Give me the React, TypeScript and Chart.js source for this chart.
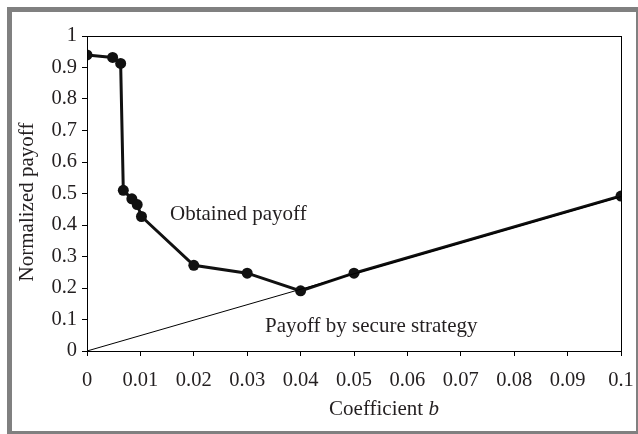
import React, { useEffect, useRef } from "react";
import { Chart, registerables } from "chart.js";

Chart.register(...registerables);

// Obtained payoff (coefficient b -> normalized payoff)
const obtainedB = [0, 0.0048, 0.0063, 0.0068, 0.0084, 0.0094, 0.0102, 0.02, 0.03, 0.04, 0.05, 0.1];
const obtainedPayoff = [0.94, 0.932, 0.913, 0.51, 0.483, 0.465, 0.427, 0.272, 0.247, 0.191, 0.247, 0.492];

// Payoff by secure strategy (straight line)
const secureB = [0, 0.1];
const securePayoff = [0, 0.49];

const xTitle = "Coefficient ";
const xTitleItalic = "b";
const yTitle = "Normalized payoff";
const obtainedLabel = "Obtained payoff";
const secureLabel = "Payoff by secure strategy";

const FONT = '"Liberation Serif", "Times New Roman", serif';

const decorPlugin = {
  id: "decor",
  beforeDraw(chart: any) {
    const ctx = chart.ctx;
    ctx.save();
    ctx.fillStyle = "#808080";
    ctx.fillRect(7, 7, chart.width - 7, chart.height - 7);
    ctx.fillStyle = "#ffffff";
    ctx.fillRect(12, 12, 636 - 12, 431 - 12);
    ctx.restore();
  },
  afterDraw(chart: any) {
    const ctx = chart.ctx;
    const a = chart.chartArea;
    ctx.save();
    // plot border
    ctx.strokeStyle = "#000";
    ctx.lineWidth = 1;
    ctx.strokeRect(Math.round(a.left) + 0.5, Math.round(a.top) + 0.5, Math.round(a.right - a.left), Math.round(a.bottom - a.top));

    ctx.fillStyle = "#231f20";
    ctx.textBaseline = "alphabetic";
    ctx.font = `21px ${FONT}`;
    // annotations
    ctx.textAlign = "left";
    ctx.fillText(obtainedLabel, 170, 220);
    ctx.fillText(secureLabel, 265, 332);

    // x title with italic b
    const w1 = ctx.measureText(xTitle).width;
    ctx.font = `italic 21px ${FONT}`;
    const w2 = ctx.measureText(xTitleItalic).width;
    const cx = 384;
    const startX = cx - (w1 + w2) / 2;
    ctx.font = `21px ${FONT}`;
    ctx.fillText(xTitle, startX, 415);
    ctx.font = `italic 21px ${FONT}`;
    ctx.fillText(xTitleItalic, startX + w1, 415);

    // y title
    ctx.font = `21px ${FONT}`;
    ctx.translate(33, 202);
    ctx.rotate(-Math.PI / 2);
    ctx.textAlign = "center";
    ctx.fillText(yTitle, 0, 0);
    ctx.restore();
  },
};

export default function App() {
  const ref = useRef<HTMLCanvasElement>(null);
  useEffect(() => {
    if (!ref.current) return;
    const chart = new Chart(ref.current, {
      type: "scatter",
      data: {
        datasets: [
          {
            label: "Payoff by secure strategy",
            data: secureB.map((b, i) => ({ x: b, y: securePayoff[i] })),
            showLine: true,
            borderColor: "#000",
            borderWidth: 1,
            pointRadius: 0,
            fill: false,
          },
          {
            label: "Obtained payoff",
            data: obtainedB.map((b, i) => ({ x: b, y: obtainedPayoff[i] })),
            showLine: true,
            borderColor: "#111",
            backgroundColor: "#111",
            borderWidth: 3,
            pointRadius: 5.5,
            pointBorderWidth: 0,
            pointBackgroundColor: "#111",
            fill: false,
          },
        ],
      },
      options: {
        responsive: false,
        animation: false,
        layout: { padding: { top: 36, right: 17, left: 0, bottom: 0 } },
        plugins: { legend: { display: false }, tooltip: { enabled: false } },
        scales: {
          x: {
            type: "linear",
            min: 0,
            max: 0.1,
            afterFit: (s: any) => {
              s.height = 83;
              s.paddingLeft = 0;
              s.paddingRight = 0;
            },
            border: { display: true, color: "#000", width: 1 },
            grid: { display: true, drawOnChartArea: false, drawTicks: true, tickLength: 5, color: "#000" },
            ticks: {
              stepSize: 0.01,
              padding: 12,
              color: "#231f20",
              font: { family: FONT, size: 20.5 },
              maxRotation: 0,
              callback: (v: any) => String(Number(Number(v).toFixed(2))),
            },
          },
          y: {
            type: "linear",
            min: 0,
            max: 1,
            afterFit: (s: any) => {
              s.width = 87;
              s.paddingTop = 0;
              s.paddingBottom = 0;
            },
            border: { display: true, color: "#000", width: 1 },
            grid: { display: true, drawOnChartArea: false, drawTicks: true, tickLength: 5, color: "#000" },
            ticks: {
              stepSize: 0.1,
              padding: 5,
              color: "#231f20",
              font: { family: FONT, size: 20.5 },
              callback: (v: any) => String(Number(Number(v).toFixed(1))),
            },
          },
        },
      },
      plugins: [decorPlugin],
    });
    return () => chart.destroy();
  }, []);
  return (
    <div style={{ position: "fixed", left: 0, top: 0, width: 638, height: 434, background: "#fff" }}>
      <canvas ref={ref} width={638} height={434} style={{ display: "block", width: 638, height: 434 }} />
    </div>
  );
}
